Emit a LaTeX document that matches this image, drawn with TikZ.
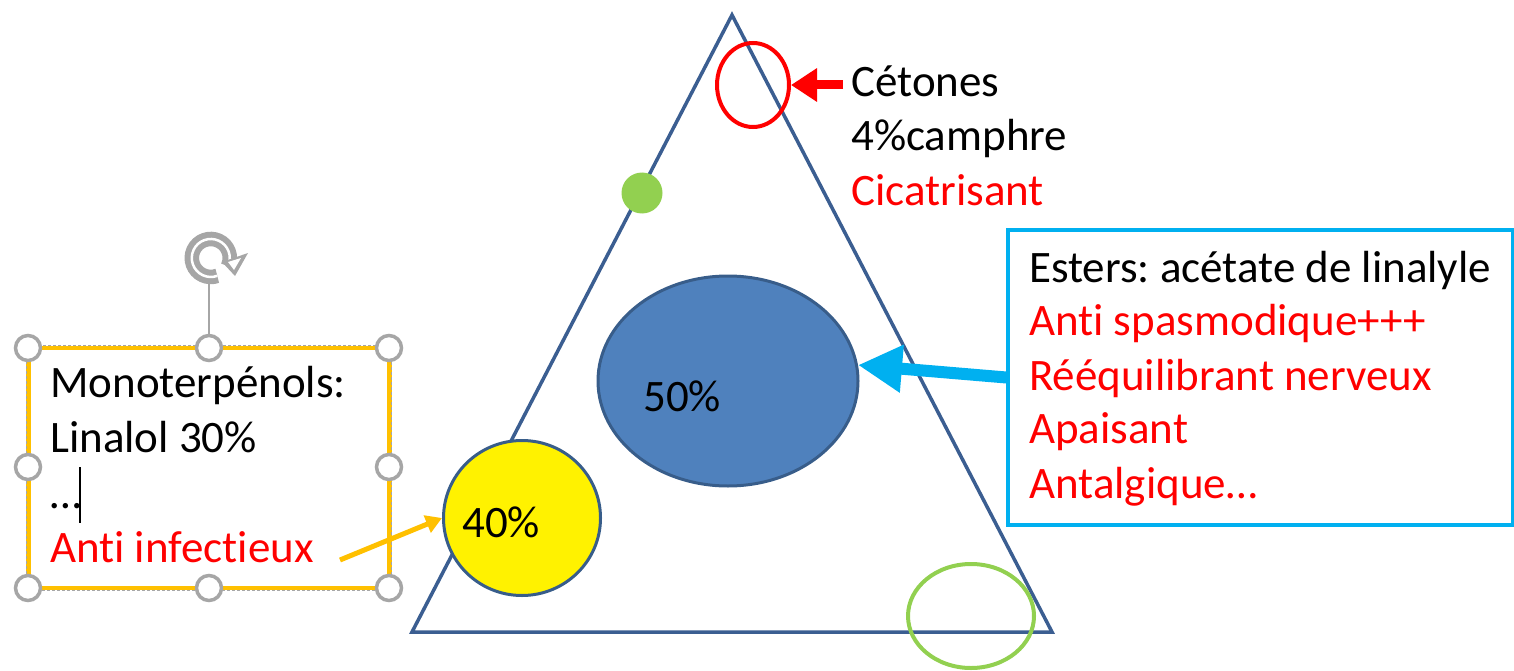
\documentclass[tikz,border=0pt]{standalone}
\usepackage{fontspec}
\setmainfont{Carlito}[Ligatures=NoCommon]
\usetikzlibrary{shapes.geometric,arrows.meta}
\definecolor{triblue}{HTML}{3B5E91}
\definecolor{ellfill}{HTML}{4F81BD}
\definecolor{elldraw}{HTML}{385D8A}
\definecolor{cyanbox}{HTML}{00B0F0}
\definecolor{leafgreen}{HTML}{92D050}
\definecolor{amber}{HTML}{FFC000}
\definecolor{pred}{HTML}{FF0000}
\definecolor{handlegray}{HTML}{A6A6A6}
\frenchspacing
\tikzset{
  txt/.style={inner sep=0pt, anchor=base west, font=\fontsize{45}{54}\selectfont},
  redtxt/.style={txt, text=pred},
  handle/.style={circle, draw=handlegray, fill=white, line width=3.5pt, minimum size=25pt, inner sep=0pt},
}
\begin{document}
\begin{tikzpicture}[x=1pt,y=-1pt]
\useasboundingbox (0,0) rectangle (1514,671);
% triangle
\draw[triblue, line width=3.5pt, line join=miter] (732,15) -- (412,632) -- (1052,632) -- cycle;
% shapes on triangle
\node[ellipse, draw=pred, line width=4pt, minimum width=72pt, minimum height=84pt, inner sep=0pt] (redc) at (753,85) {};
\node[circle, fill=leafgreen, minimum size=41pt, inner sep=0pt] (gdot) at (642,193) {};
\node[ellipse, fill=ellfill, draw=elldraw, line width=3pt, minimum width=260pt, minimum height=210pt, inner sep=0pt] (blueell) at (728,381) {};
\node[txt] (p50) at (643,411) {50\%};
\node[ellipse, fill=yellow, draw=elldraw, line width=3pt, minimum width=157pt, minimum height=155pt, inner sep=0pt] (yelc) at (522,518) {};
\node[txt] (p40) at (462,537) {40\%};
\node[ellipse, draw=leafgreen, line width=4pt, minimum width=126pt, minimum height=104pt, inner sep=0pt] (greenell) at (971,616) {};
% Cetones text
\node[txt] (c1) at (851,97) {Cétones};
\node[txt] (c2) at (851,151) {4\%camphre};
\node[redtxt] (c3) at (851,205) {Cicatrisant};
\coordinate (redstart) at (843,85);
\draw[pred, line width=9pt, -{Triangle[length=26pt,width=32pt]}] (redstart) -- (redc.east);
% Esters box
\node[draw=cyanbox, line width=3.5pt, minimum width=505pt, minimum height=295pt, inner sep=0pt] (ebox) at (1260.5,377.5) {};
\node[txt] (e1) at (1029,282) {Esters: acétate de linalyle};
\node[redtxt] (e2) at (1029,335) {Anti spasmodique+++};
\node[redtxt] (e3) at (1029,390) {Rééquilibrant nerveux};
\node[redtxt] (e4) at (1029,443) {Apaisant};
\node[redtxt] (e5) at (1029,498) {Antalgique…};
\draw[cyanbox, line width=12pt, -{Triangle[length=44pt,width=45pt]}] (ebox.west) -- (blueell.7);
% Monoterpenols box (selected text box)
\node[draw=amber, line width=4.5pt, minimum width=361pt, minimum height=240pt, inner sep=0pt] (mbox) at (209,468) {};
\draw[handlegray, line width=1pt, dash pattern=on 3pt off 2pt] (mbox.north west) rectangle (mbox.south east);
\node[txt] (m1) at (50,397) {Monoterpénols:};
\node[txt] (m2) at (50,452) {Linalol 30\%};
\node[txt] (m3) at (50,508) {…};
\node[redtxt] (m4) at (50,562) {Anti infectieux};
\draw[black, line width=1.5pt] (80,467) -- (80,523);
\coordinate (ostart) at (340,560);
\draw[amber, line width=5pt, -{Triangle[length=16pt,width=18pt]}] (ostart) -- (yelc.west);
% rotation handle
\coordinate (rotbase) at (209,336);
\coordinate (rottop) at (209,283);
\draw[handlegray, line width=2pt] (rotbase) -- (rottop);
\draw[handlegray, line width=6pt, double=white, double distance=2.5pt] (228,266) arc[start angle=-25, end angle=290, radius=19pt];
\fill[handlegray] (222,262) -- (248,253) -- (235,276) -- cycle;
\fill[white] (228,262) -- (241,258) -- (234,270) -- cycle;
% handles
\node[handle] (h1) at (28,348) {};
\node[handle] (h2) at (209,348) {};
\node[handle] (h3) at (389,348) {};
\node[handle] (h4) at (28,467) {};
\node[handle] (h5) at (389,467) {};
\node[handle] (h6) at (28,588) {};
\node[handle] (h7) at (209,588) {};
\node[handle] (h8) at (389,588) {};
\end{tikzpicture}
\end{document}
